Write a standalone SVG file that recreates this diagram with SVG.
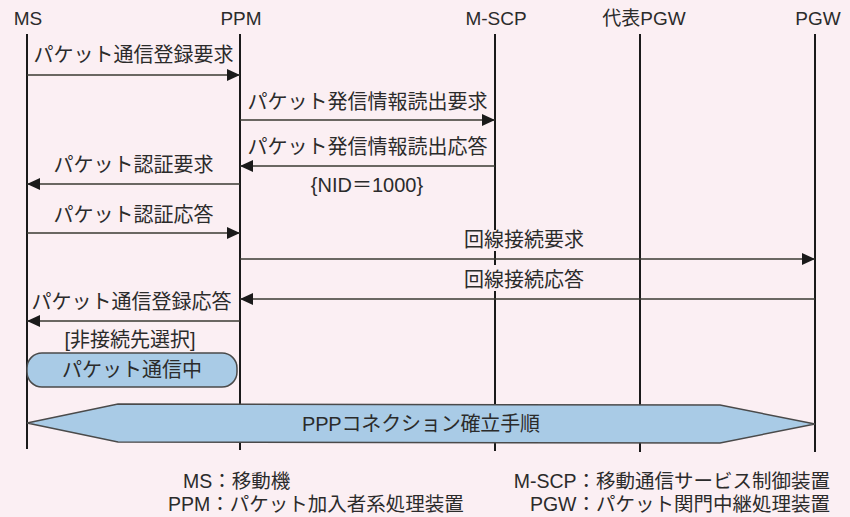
<svg xmlns="http://www.w3.org/2000/svg" width="850" height="517" viewBox="0 0 850 517">
<style>
text{font-family:"Liberation Sans","Noto Sans CJK JP",sans-serif;fill:#2b2b2b;font-size:20px}
.hdr{font-size:19px;text-anchor:middle}
.lbl{text-anchor:middle}
.leg{font-size:19.5px}
.life{stroke:#1a1a1a;stroke-width:2}
.msg{stroke:#3a3a32;stroke-width:1.4;fill:none;marker-end:url(#ah)}
.box{fill:#a9cbe6;stroke:#4a4a4a;stroke-width:1.5}
.knock{fill:#fbeff3}
</style>
<defs>
<marker id="ah" viewBox="0 0 13 12" refX="13" refY="6" markerWidth="13" markerHeight="12" markerUnits="userSpaceOnUse" orient="auto">
<path d="M0,0 L13,6 L0,12 Z" fill="#1a1a1a"/>
</marker>
</defs>
<rect width="850" height="517" fill="#fbeff3"/>
<g id="lifelines">
<g id="MS"><text class="hdr" x="28" y="25">MS</text><line class="life" x1="27" y1="34" x2="27" y2="449"/></g>
<g id="PPM"><text class="hdr" x="241" y="25">PPM</text><line class="life" x1="240" y1="34" x2="240" y2="450"/></g>
<g id="M-SCP"><text class="hdr" x="496" y="25">M-SCP</text><line class="life" x1="495" y1="34" x2="495" y2="451"/></g>
<g id="RepPGW"><text class="hdr" x="644" y="25">代表PGW</text><line class="life" x1="640" y1="34" x2="640" y2="452"/></g>
<g id="PGW"><text class="hdr" x="818" y="25">PGW</text><line class="life" x1="815" y1="34" x2="815" y2="452"/></g>
</g>
<g id="connectors">
<line class="msg" x1="27" y1="75" x2="240" y2="75"/>
<line class="msg" x1="240" y1="120" x2="495" y2="120"/>
<line class="msg" x1="495" y1="166" x2="240" y2="166"/>
<line class="msg" x1="240" y1="184" x2="27" y2="184"/>
<line class="msg" x1="27" y1="233" x2="240" y2="233"/>
<line class="msg" x1="240" y1="259" x2="815" y2="259"/>
<line class="msg" x1="815" y1="299" x2="240" y2="299"/>
<line class="msg" x1="240" y1="321" x2="27" y2="321"/>
</g>
<g id="labels">
<text class="lbl" x="133.5" y="62">パケット通信登録要求</text>
<text class="lbl" x="367.5" y="109">パケット発信情報読出要求</text>
<text class="lbl" x="367.5" y="154">パケット発信情報読出応答</text>
<text class="lbl" x="367" y="192">{NID＝1000}</text>
<text class="lbl" x="133.5" y="172">パケット認証要求</text>
<text class="lbl" x="133.5" y="222">パケット認証応答</text>
<rect class="knock" x="465" y="230" width="118" height="21"/>
<text class="lbl" x="524" y="247">回線接続要求</text>
<rect class="knock" x="465" y="265" width="118" height="26"/>
<text class="lbl" x="524" y="287">回線接続応答</text>
<text class="lbl" x="131.5" y="309">パケット通信登録応答</text>
<text class="lbl" x="130" y="347">[非接続先選択]</text>
</g>
<g id="packet-comm">
<rect class="box" x="27" y="353" width="210" height="34" rx="15" ry="15"/>
<text class="lbl" x="132" y="377">パケット通信中</text>
</g>
<g id="ppp">
<polygon class="box" points="27,423 118,404 720,405 815,424 720,443 118,442"/>
<text class="lbl" x="421" y="431" textLength="238" lengthAdjust="spacing">PPPコネクション確立手順</text>
</g>
<g id="legend">
<text class="leg" x="183" y="488">MS：移動機</text>
<text class="leg" x="168" y="511">PPM：パケット加入者系処理装置</text>
<text class="leg" x="830" y="488" text-anchor="end">M-SCP：移動通信サービス制御装置</text>
<text class="leg" x="830" y="511" text-anchor="end">PGW：パケット関門中継処理装置</text>
</g>
</svg>
